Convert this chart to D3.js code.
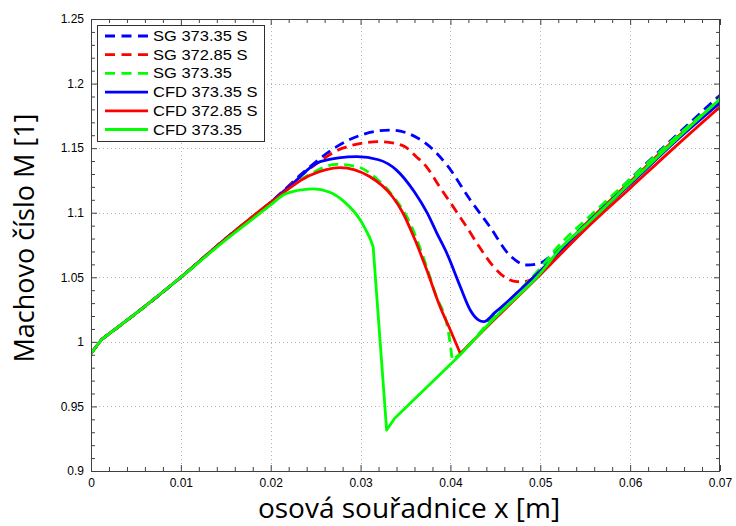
<!DOCTYPE html>
<html><head><meta charset="utf-8">
<script src="https://cdn.jsdelivr.net/npm/d3@7"></script>
<style>
html,body{margin:0;padding:0;background:#fff;}
svg{display:block;}
</style></head>
<body>
<svg id="chart" width="736" height="526"></svg>
<script>
// ---- data ----
const seriesNames = ["SG 373.35 S", "SG 372.85 S", "SG 373.35", "CFD 373.35 S", "CFD 372.85 S", "CFD 373.35"];
const seriesColors = ["#0000ff", "#ff0000", "#00ff00", "#0000ff", "#ff0000", "#00ff00"];
const seriesDashed = [true, true, true, false, false, false];

const sgBlueX = [0, 0.0012, 0.005, 0.01, 0.015, 0.02, 0.0236, 0.0255, 0.0273, 0.03, 0.0333, 0.037, 0.0396, 0.0422, 0.0444, 0.0466, 0.0485, 0.05, 0.0511, 0.055, 0.06, 0.065, 0.07];
const sgBlueY = [0.991, 1.002, 1.022, 1.050, 1.080, 1.108, 1.131, 1.142, 1.151, 1.160, 1.164, 1.155, 1.137, 1.110, 1.089, 1.067, 1.0595, 1.061, 1.066, 1.091, 1.126, 1.159, 1.191];

const sgRedX = [0, 0.0012, 0.005, 0.01, 0.015, 0.02, 0.0236, 0.0255, 0.028, 0.0322, 0.0347, 0.0362, 0.0374, 0.0388, 0.0403, 0.0418, 0.0433, 0.0448, 0.0463, 0.0474, 0.0485, 0.05, 0.055, 0.06, 0.065, 0.07];
const sgRedY = [0.991, 1.002, 1.022, 1.050, 1.080, 1.108, 1.130, 1.140, 1.150, 1.155, 1.152, 1.1434, 1.135, 1.120, 1.1047, 1.089, 1.0727, 1.0582, 1.049, 1.0466, 1.047, 1.054, 1.091, 1.124, 1.157, 1.187];

const sgGreenX = [0, 0.0012, 0.005, 0.01, 0.015, 0.02, 0.0244, 0.0273, 0.0296, 0.032, 0.0336, 0.0355, 0.0374, 0.0383, 0.0398, 0.0402, 0.0411, 0.045, 0.05, 0.052, 0.055, 0.06, 0.065, 0.07];
const sgGreenY = [0.991, 1.002, 1.022, 1.050, 1.080, 1.108, 1.130, 1.1375, 1.1357, 1.125, 1.113, 1.092, 1.057, 1.0376, 1.0066, 0.986, 0.991, 1.021, 1.057, 1.074, 1.094, 1.126, 1.158, 1.188];

const cfdBlueX = [0, 0.0012, 0.005, 0.01, 0.015, 0.02, 0.0225, 0.0255, 0.0296, 0.032, 0.034, 0.036, 0.0374, 0.0385, 0.0396, 0.0411, 0.0422, 0.0431, 0.0437, 0.045, 0.05, 0.055, 0.06, 0.065, 0.07];
const cfdBlueY = [0.991, 1.002, 1.022, 1.050, 1.080, 1.108, 1.123, 1.1395, 1.1434, 1.141, 1.133, 1.116, 1.100, 1.084, 1.0686, 1.0427, 1.0247, 1.017, 1.0156, 1.023, 1.055, 1.090, 1.122, 1.155, 1.185];

const cfdRedX = [0, 0.0012, 0.005, 0.01, 0.015, 0.02, 0.0244, 0.0277, 0.031, 0.0336, 0.0347, 0.036, 0.0374, 0.0388, 0.04, 0.0411, 0.045, 0.05, 0.055, 0.06, 0.065, 0.07];
const cfdRedY = [0.991, 1.002, 1.022, 1.050, 1.080, 1.108, 1.129, 1.1349, 1.128, 1.112, 1.100, 1.080, 1.055, 1.028, 1.009, 0.991, 1.018, 1.052, 1.087, 1.119, 1.151, 1.182];

const cfdGreenX = [0, 0.0012, 0.005, 0.01, 0.015, 0.02, 0.0214, 0.023, 0.0247, 0.0265, 0.0281, 0.03, 0.031, 0.0314, 0.0329, 0.0338, 0.0411, 0.045, 0.05, 0.0522, 0.055, 0.06, 0.065, 0.07];
const cfdGreenY = [0.991, 1.002, 1.022, 1.050, 1.079, 1.106, 1.1137, 1.1172, 1.1184, 1.116, 1.109, 1.094, 1.081, 1.0737, 0.9317, 0.9408, 0.990, 1.019, 1.053, 1.072, 1.090, 1.123, 1.156, 1.188];

// x positions where a series has a sharp corner (curve is split there)
const sgBlueKinks = [0.0012];
const sgRedKinks = [0.0012];
const sgGreenKinks = [0.0012, 0.0402];
const cfdBlueKinks = [0.0012];
const cfdRedKinks = [0.0012, 0.0411];
const cfdGreenKinks = [0.0012, 0.031, 0.0314, 0.0329, 0.0338, 0.0411];

const xTickValues = [0, 0.01, 0.02, 0.03, 0.04, 0.05, 0.06, 0.07];
const xTickLabels = ["0", "0.01", "0.02", "0.03", "0.04", "0.05", "0.06", "0.07"];
const yTickValues = [0.9, 0.95, 1, 1.05, 1.1, 1.15, 1.2, 1.25];
const yTickLabels = ["0.9", "0.95", "1", "1.05", "1.1", "1.15", "1.2", "1.25"];
const xLabel = "osová souřadnice x [m]";
const yLabel = "Machovo číslo M [1]";

// ---- drawing ----
const seriesX = [sgBlueX, sgRedX, sgGreenX, cfdBlueX, cfdRedX, cfdGreenX];
const seriesY = [sgBlueY, sgRedY, sgGreenY, cfdBlueY, cfdRedY, cfdGreenY];
const seriesKinks = [sgBlueKinks, sgRedKinks, sgGreenKinks, cfdBlueKinks, cfdRedKinks, cfdGreenKinks];

const L = 91, R = 720, T = 19, B = 471;
const svg = d3.select("#chart");
const x = d3.scaleLinear().domain([0, 0.07]).range([L, R]);
const y = d3.scaleLinear().domain([0.9, 1.25]).range([B, T]);

const xMinor = d3.range(0, 0.0701, 0.002).filter(v => Math.abs(v / 0.01 - Math.round(v / 0.01)) > 1e-6);
const yMinor = d3.range(0.9, 1.2501, 0.01).filter(v => Math.abs(v / 0.05 - Math.round(v / 0.05)) > 1e-6);

// grid
const grid = svg.append("g").attr("stroke", "#b4b4b4").attr("stroke-width", 1).attr("stroke-dasharray", "1,3");
xTickValues.slice(1, -1).forEach(v => grid.append("line").attr("x1", Math.round(x(v)) + 0.5).attr("x2", Math.round(x(v)) + 0.5).attr("y1", T).attr("y2", B));
yTickValues.slice(1, -1).forEach(v => grid.append("line").attr("y1", Math.round(y(v)) + 0.5).attr("y2", Math.round(y(v)) + 0.5).attr("x1", L).attr("x2", R));

// lines
svg.append("clipPath").attr("id", "clip").append("rect").attr("x", L).attr("y", T).attr("width", R - L).attr("height", B - T);
const plot = svg.append("g").attr("clip-path", "url(#clip)");
const lineGen = d3.line().x(d => x(d[0])).y(d => y(d[1])).curve(d3.curveMonotoneX);
seriesNames.forEach((name, i) => {
  const pts = seriesX[i].map((vx, k) => [vx, seriesY[i][k]]);
  const splits = [0];
  seriesKinks[i].forEach(kx => {
    const idx = seriesX[i].findIndex(v => Math.abs(v - kx) < 1e-9);
    if (idx > 0) splits.push(idx);
  });
  splits.push(pts.length - 1);
  let d = "";
  for (let s = 0; s < splits.length - 1; s++) {
    const seg = lineGen(pts.slice(splits[s], splits[s + 1] + 1));
    d += s === 0 ? seg : seg.replace(/^M[^A-Za-z]*/, "");
  }
  plot.append("path").attr("d", d).attr("fill", "none")
    .attr("stroke", seriesColors[i]).attr("stroke-width", 2.8)
    .attr("stroke-linejoin", "round")
    .attr("stroke-dasharray", seriesDashed[i] ? "10,6" : null);
});

// axes (ticks inside, MATLAB style)
function styleAxis(g) {
  g.select(".domain").remove();
  g.selectAll(".tick line").attr("stroke", "#404040");
  g.selectAll("text").attr("font-family", "'Liberation Sans', Arial, sans-serif").attr("font-size", 12).attr("fill", "#000");
}
function noText(g) { g.selectAll("text").remove(); }
svg.append("g").attr("transform", `translate(0,${B})`)
  .call(d3.axisBottom(x).tickValues(xTickValues).tickFormat((d, i) => xTickLabels[i]).tickSize(-6).tickPadding(7)).call(styleAxis);
svg.append("g").attr("transform", `translate(0,${B})`)
  .call(d3.axisBottom(x).tickValues(xMinor).tickSize(-4)).call(styleAxis).call(noText);
svg.append("g").attr("transform", `translate(0,${T})`)
  .call(d3.axisTop(x).tickValues(xTickValues).tickSize(-6)).call(styleAxis).call(noText);
svg.append("g").attr("transform", `translate(0,${T})`)
  .call(d3.axisTop(x).tickValues(xMinor).tickSize(-4)).call(styleAxis).call(noText);
svg.append("g").attr("transform", `translate(${L},0)`)
  .call(d3.axisLeft(y).tickValues(yTickValues).tickFormat((d, i) => yTickLabels[i]).tickSize(-6).tickPadding(7)).call(styleAxis);
svg.append("g").attr("transform", `translate(${L},0)`)
  .call(d3.axisLeft(y).tickValues(yMinor).tickSize(-4)).call(styleAxis).call(noText);
svg.append("g").attr("transform", `translate(${R},0)`)
  .call(d3.axisRight(y).tickValues(yTickValues).tickSize(-6)).call(styleAxis).call(noText);
svg.append("g").attr("transform", `translate(${R},0)`)
  .call(d3.axisRight(y).tickValues(yMinor).tickSize(-4)).call(styleAxis).call(noText);

// box
svg.append("rect").attr("x", L + 0.5).attr("y", T + 0.5).attr("width", R - L - 1).attr("height", B - T)
  .attr("fill", "none").attr("stroke", "#404040").attr("stroke-width", 1);

// legend
const lg = svg.append("g");
lg.append("rect").attr("x", 97.5).attr("y", 25.5).attr("width", 167).attr("height", 116)
  .attr("fill", "#fff").attr("stroke", "#303030").attr("stroke-width", 1);
seriesNames.forEach((name, i) => {
  const cy = 36 + i * 18.7;
  lg.append("line").attr("x1", 105).attr("x2", 148).attr("y1", cy).attr("y2", cy)
    .attr("stroke", seriesColors[i]).attr("stroke-width", 2.8)
    .attr("stroke-dasharray", seriesDashed[i] ? "10,6.5" : null);
  lg.append("text").attr("transform", `translate(153,${cy + 5}) scale(1.18,1)`)
    .attr("font-family", "'Liberation Sans', Arial, sans-serif").attr("font-size", 14).attr("fill", "#000")
    .text(name);
});

// axis titles
svg.append("text").attr("x", 409).attr("y", 518).attr("text-anchor", "middle")
  .attr("font-family", "'Open Sans', sans-serif").attr("font-size", 28).attr("fill", "#000").text(xLabel);
svg.append("text").attr("transform", "translate(34,238) rotate(-90)").attr("text-anchor", "middle")
  .attr("font-family", "'Open Sans', sans-serif").attr("font-size", 27).attr("fill", "#000").text(yLabel);
</script>
</body></html>
